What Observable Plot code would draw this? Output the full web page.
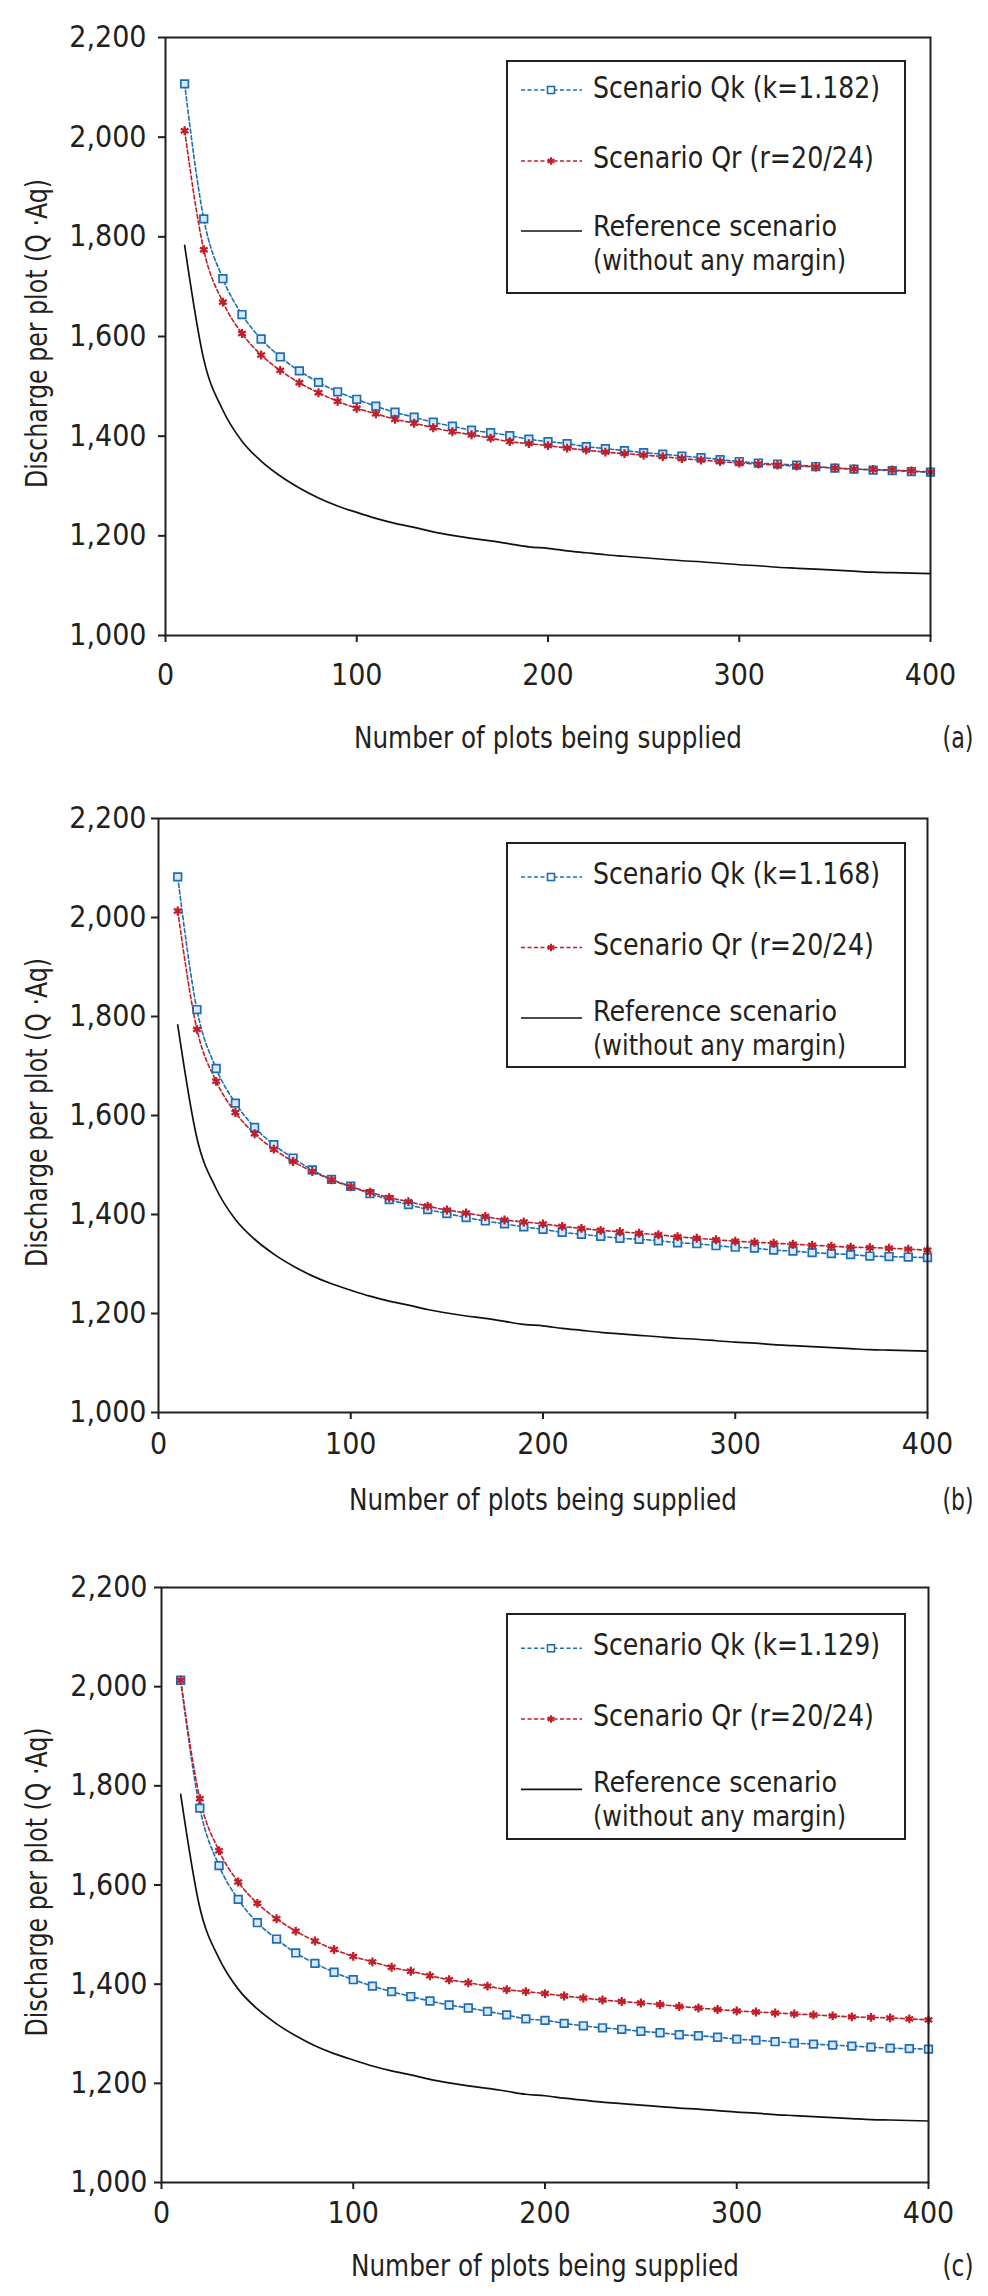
<!DOCTYPE html>
<html>
<head>
<meta charset="utf-8">
<script src="https://cdn.jsdelivr.net/npm/d3@7"></script>
<script src="https://cdn.jsdelivr.net/npm/@observablehq/plot@0.6"></script>
<style>
  html, body { margin: 0; padding: 0; background: #fff; }
  #wrap { width: 988px; height: 2296px; position: relative; overflow: hidden; background: #fff; }
  #wrap svg { display: block; }
</style>
</head>
<body>
<div id="wrap"></div>
<script>
// ---- data ----
const plots = [10,20,30,40,50,60,70,80,90,100,110,120,130,140,150,160,170,180,190,200,
               210,220,230,240,250,260,270,280,290,300,310,320,330,340,350,360,370,380,390,400];

const reference = [1783,1554,1452,1390,1350,1320,1296,1276,1260,1247,1235,1225,1217,1208,1201,1195,1190,1184,1178,1175,
                   1170,1166,1162,1159,1156,1153,1150,1148,1145,1142,1140,1137,1135,1133,1131,1129,1127,1126,1125,1124];

const scenarioQr = [2013,1774,1669,1606,1563,1532,1507,1487,1470,1456,1445,1434,1426,1417,1409,1403,1396,1389,1385,1381,
                    1376,1372,1368,1365,1362,1359,1355,1352,1349,1346,1344,1342,1340,1338,1336,1334,1333,1332,1330,1328];

const scenarioQkA = [2107,1836,1716,1644,1595,1559,1531,1508,1489,1474,1460,1448,1438,1428,1420,1412,1407,1401,1394,1389,
                     1385,1379,1375,1371,1367,1364,1360,1357,1353,1349,1346,1344,1342,1339,1336,1334,1332,1331,1329,1328];

const scenarioQkB = [2082,1814,1695,1625,1576,1541,1514,1490,1471,1457,1442,1430,1420,1410,1402,1394,1387,1381,1375,1370,
                     1364,1360,1356,1352,1350,1347,1343,1341,1337,1334,1332,1328,1326,1323,1321,1319,1316,1315,1314,1313];

const scenarioQkC = [2013,1755,1639,1571,1524,1491,1463,1442,1424,1409,1396,1385,1375,1366,1358,1352,1345,1338,1330,1327,
                     1321,1316,1312,1309,1305,1302,1298,1296,1293,1289,1287,1284,1281,1279,1277,1275,1273,1271,1270,1269];

const kLabels = ["Scenario Qk (k=1.182)", "Scenario Qk (k=1.168)", "Scenario Qk (k=1.129)"];
const qrLabel = "Scenario Qr (r=20/24)";
const refLabel = ["Reference scenario", "(without any margin)"];
const panelTags = ["(a)", "(b)", "(c)"];
const xTicks = [0, 100, 200, 300, 400];
const yTicks = [1000, 1200, 1400, 1600, 1800, 2000, 2200];
const xTitle = "Number of plots being supplied";
const yTitle = "Discharge per plot (Q ·Aq)";

// ---- styles ----
const FONT = '"DejaVu Sans Condensed", "Liberation Sans Narrow", "DejaVu Sans", sans-serif';
const BLUE = "#1f6eb4";
const RED = "#c01f2a";
const INK = "#231f20";
const WIDTH = 988;

// ---- layout per panel ----
const panels = [
  { qk: scenarioQkA, label: kLabels[0], tag: panelTags[0], h: 770, mt: 37, mb: 135, ml: 165, mr: 58,
    padX: 21, padY: 12, titleDy: 112, tagDx: 12,
    leg: { top: 24, bottom: 256, lines: [53, 124, 194], base: [60.7, 131.3, 199.3, 233.3] } },
  { qk: scenarioQkB, label: kLabels[1], tag: panelTags[1], h: 770, mt: 48, mb: 128, ml: 158, mr: 61,
    padX: 13, padY: 5, titleDy: 97, tagDx: 15,
    leg: { top: 25, bottom: 249, lines: [59, 129.5, 200], base: [66, 136.5, 203, 237] } },
  { qk: scenarioQkC, label: kLabels[2], tag: panelTags[2], h: 756, mt: 47, mb: 114, ml: 161, mr: 60,
    padX: 12, padY: 7, titleDy: 93, tagDx: 14,
    leg: { top: 27, bottom: 252, lines: [61.3, 132, 202.3], base: [68, 138.7, 205, 239] } }
];

// fit text to the widths seen in the figure (condensed face)
function fit(sel, len) {
  sel.attr("textLength", len).attr("lengthAdjust", "spacingAndGlyphs");
}

const wrap = document.getElementById("wrap");

for (const p of panels) {
  const rows = plots.map((n, i) => ({ n, ref: reference[i], qr: scenarioQr[i], qk: p.qk[i] }));
  const frameCx = p.ml + (WIDTH - p.ml - p.mr) / 2;
  const svg = Plot.plot({
    width: WIDTH,
    height: p.h,
    marginTop: p.mt,
    marginBottom: p.mb,
    marginLeft: p.ml,
    marginRight: p.mr,
    style: { fontFamily: FONT, color: INK, background: "#fff", overflow: "visible" },
    x: { domain: [0, 400] },
    y: { domain: [1000, 2200] },
    marks: [
      Plot.line(rows, { x: "n", y: "ref", stroke: "#111", strokeWidth: 1.7, curve: "monotone-x" }),
      Plot.line(rows, { x: "n", y: "qk", stroke: BLUE, strokeWidth: 1.6, strokeDasharray: "4,2.5", curve: "monotone-x" }),
      Plot.line(rows, { x: "n", y: "qr", stroke: RED, strokeWidth: 1.6, strokeDasharray: "4,2.5", curve: "monotone-x" }),
      Plot.dot(rows, { x: "n", y: "qk", symbol: "square", r: 4.3, stroke: BLUE, fill: "#d8e8f5", strokeWidth: 1.7 }),
      Plot.dot(rows, { x: "n", y: "qr", symbol: "asterisk", r: 4.2, stroke: RED, strokeWidth: 2.3 }),
      Plot.frame({ stroke: INK, strokeWidth: 2 }),
      Plot.axisX({ ticks: xTicks, tickSize: 7, tickPadding: p.padX, fontSize: 30, label: null, strokeWidth: 2 }),
      Plot.axisY({ ticks: yTicks, tickFormat: d3.format(","), tickSize: 7, tickPadding: p.padY, fontSize: 30, label: null, strokeWidth: 2 }),
      Plot.text([xTitle], { text: d => d, frameAnchor: "bottom", dy: p.titleDy, lineAnchor: "bottom", fontSize: 31, fill: INK }),
      Plot.text([p.tag], { text: d => d, frameAnchor: "bottom-right", textAnchor: "start", dx: p.tagDx, dy: p.titleDy, lineAnchor: "bottom", fontSize: 31, fill: INK }),
      Plot.text([yTitle], { text: d => d, frameAnchor: "middle", textAnchor: "middle", rotate: -90, dx: 46 - frameCx, dy: -3, lineAnchor: "bottom", fontSize: 30, fill: INK })
    ]
  });

  const root = d3.select(svg);
  fit(root.selectAll("text").filter(function () { return this.textContent === xTitle; }), 388);
  fit(root.selectAll("text").filter(function () { return this.textContent === yTitle; }), 309);
  fit(root.selectAll("text").filter(function () { return this.textContent === p.tag; }), 31);

  // legend box (drawn onto the Plot SVG)
  const g = root.append("g").attr("font-family", FONT).attr("fill", INK).attr("text-anchor", "start");
  const L = p.leg, top = p.mt;
  g.append("rect").attr("x", 507).attr("y", top + L.top).attr("width", 398).attr("height", L.bottom - L.top)
    .attr("fill", "#fff").attr("stroke", INK).attr("stroke-width", 2);
  const x0 = 521, x1 = 582, xm = 551, tx = 593;
  // Qk entry
  g.append("line").attr("x1", x0).attr("x2", x1).attr("y1", top + L.lines[0]).attr("y2", top + L.lines[0])
    .attr("stroke", BLUE).attr("stroke-width", 1.5).attr("stroke-dasharray", "4,2.5");
  g.append("rect").attr("x", xm - 3.5).attr("y", top + L.lines[0] - 3.5).attr("width", 7).attr("height", 7)
    .attr("fill", "#fff").attr("stroke", BLUE).attr("stroke-width", 1.6);
  // Qr entry
  g.append("line").attr("x1", x0).attr("x2", x1).attr("y1", top + L.lines[1]).attr("y2", top + L.lines[1])
    .attr("stroke", RED).attr("stroke-width", 1.5).attr("stroke-dasharray", "4,2.5");
  g.append("path").attr("transform", `translate(${xm},${top + L.lines[1]})`)
    .attr("d", d3.symbol(d3.symbolAsterisk, 40)()).attr("stroke", RED).attr("stroke-width", 2).attr("fill", "none");
  // Reference entry
  g.append("line").attr("x1", x0).attr("x2", x1).attr("y1", top + L.lines[2]).attr("y2", top + L.lines[2])
    .attr("stroke", "#111").attr("stroke-width", 1.7);

  const t1 = g.append("text").attr("x", tx).attr("y", top + L.base[0]).attr("font-size", 31).text(p.label);
  fit(t1, 287);
  const t2 = g.append("text").attr("x", tx).attr("y", top + L.base[1]).attr("font-size", 31).text(qrLabel);
  fit(t2, 281);
  const t3 = g.append("text").attr("x", tx).attr("y", top + L.base[2]).attr("font-size", 28).text(refLabel[0]);
  fit(t3, 244);
  const t4 = g.append("text").attr("x", tx).attr("y", top + L.base[3]).attr("font-size", 28).text(refLabel[1]);
  fit(t4, 253);

  wrap.appendChild(svg);
}
</script>
</body>
</html>
